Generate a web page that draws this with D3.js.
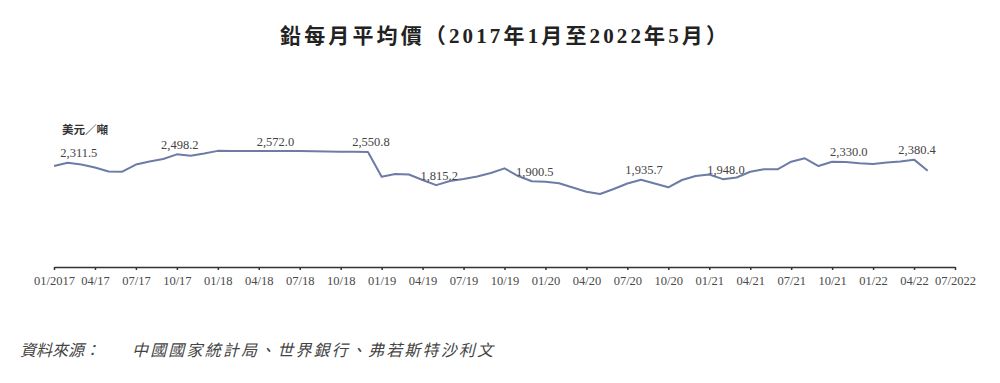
<!DOCTYPE html>
<html><head><meta charset="utf-8">
<script src="https://cdn.jsdelivr.net/npm/d3@7"></script>
<style>
html,body{margin:0;padding:0;background:#fff;}
svg{display:block;}
</style></head>
<body>
<svg id="chart" width="1000" height="383"></svg>
<script>
// ---- data ----
const titleText = "鉛每月平均價（2017年1月至2022年5月）";
const unitText = "美元／噸";
const sourceLabel = "資料來源：";
const sourceText = "中國國家統計局、世界銀行、弗若斯特沙利文";
// monthly average price, Jan 2017 .. May 2022 (USD/tonne)
const priceValues = [
  2239, 2311.5, 2272, 2206, 2117, 2113, 2272, 2339, 2394, 2498.2, 2468, 2516,
  2575, 2572, 2572, 2572, 2572, 2572, 2572, 2568, 2563, 2558, 2554, 2550.8,
  2002, 2062, 2051, 1929, 1815.2, 1907, 1951, 2006, 2084, 2188, 2017, 1900.5,
  1891, 1856, 1763, 1669, 1618, 1729, 1851, 1935.7, 1851, 1767, 1929, 2017,
  2051, 1948.0, 1985, 2113, 2166, 2166, 2334, 2410, 2239, 2334, 2330.0, 2299,
  2284, 2317, 2339, 2380.4, 2135
];
const tickLabels = ["01/2017","04/17","07/17","10/17","01/18","04/18","07/18","10/18",
  "01/19","04/19","07/19","10/19","01/20","04/20","07/20","10/20","01/21","04/21",
  "07/21","10/21","01/22","04/22","07/2022"];
// annotated points: month index and label
const labelMonths = [1, 9, 16, 23, 28, 35, 43, 49, 58, 63];
const labelTexts = ["2,311.5","2,498.2","2,572.0","2,550.8","1,815.2","1,900.5","1,935.7","1,948.0","2,330.0","2,380.4"];
const labelShift = [0.6, 0, 0, 0, 0, 0, 0, 0, 0, 0];

// ---- layout ----
const svg = d3.select("#chart");
const x = d3.scaleLinear().domain([0, 66]).range([54, 955]);
const y = d3.scaleLinear().domain([0, 3000]).range([267, 131.7]);

// title
svg.append("text")
  .attr("x", 503.5).attr("y", 43)
  .attr("text-anchor", "middle")
  .attr("font-family", "'Liberation Serif','Noto Sans CJK TC',serif")
  .attr("font-weight", "bold")
  .attr("font-size", 21)
  .attr("fill", "#222")
  .attr("textLength", 447).attr("lengthAdjust", "spacing")
  .text(titleText);

// unit
svg.append("text")
  .attr("x", 62).attr("y", 134)
  .attr("font-family", "'Noto Sans CJK TC',sans-serif")
  .attr("font-weight", "bold")
  .attr("font-size", 11.5)
  .attr("fill", "#333")
  .text(unitText);

// axis
const xAxis = d3.axisBottom(x)
  .tickValues(d3.range(0, 67, 3))
  .tickFormat((d, i) => tickLabels[i])
  .tickSize(3)
  .tickSizeOuter(0)
  .tickPadding(6);
const gx = svg.append("g").attr("transform", "translate(0,267)").call(xAxis);
gx.select(".domain").attr("stroke", "#333").attr("stroke-width", 1.6);
gx.selectAll(".tick line").attr("stroke", "#333").attr("stroke-width", 1.5);
gx.selectAll(".tick text")
  .attr("font-family", "'Liberation Serif',serif")
  .attr("font-size", 12.5)
  .attr("fill", "#4a4a4a");

// line
const line = d3.line().x((d, i) => x(i)).y(d => y(d));
svg.append("path")
  .datum(priceValues)
  .attr("fill", "none")
  .attr("stroke", "#6d7ca6")
  .attr("stroke-width", 2)
  .attr("stroke-linejoin", "round")
  .attr("d", line);

// annotations
svg.append("g").selectAll("text")
  .data(labelMonths)
  .join("text")
  .attr("x", (d, i) => x(d + labelShift[i]) + 3)
  .attr("y", d => y(priceValues[d]) - 5.5)
  .attr("text-anchor", "middle")
  .attr("font-family", "'Liberation Serif',serif")
  .attr("font-size", 12.5)
  .attr("fill", "#444")
  .text((d, i) => labelTexts[i]);

// source
svg.append("text")
  .attr("x", 20).attr("y", 356)
  .attr("font-family", "'Noto Sans CJK TC',sans-serif")
  .attr("font-size", 16)
  .attr("font-style", "italic")
  .attr("fill", "#444")
  .text(sourceLabel);
svg.append("text")
  .attr("x", 132).attr("y", 356)
  .attr("font-family", "'Noto Sans CJK TC',sans-serif")
  .attr("font-size", 16)
  .attr("font-style", "italic")
  .attr("fill", "#444")
  .attr("textLength", 361).attr("lengthAdjust", "spacing")
  .text(sourceText);
</script>
</body></html>
